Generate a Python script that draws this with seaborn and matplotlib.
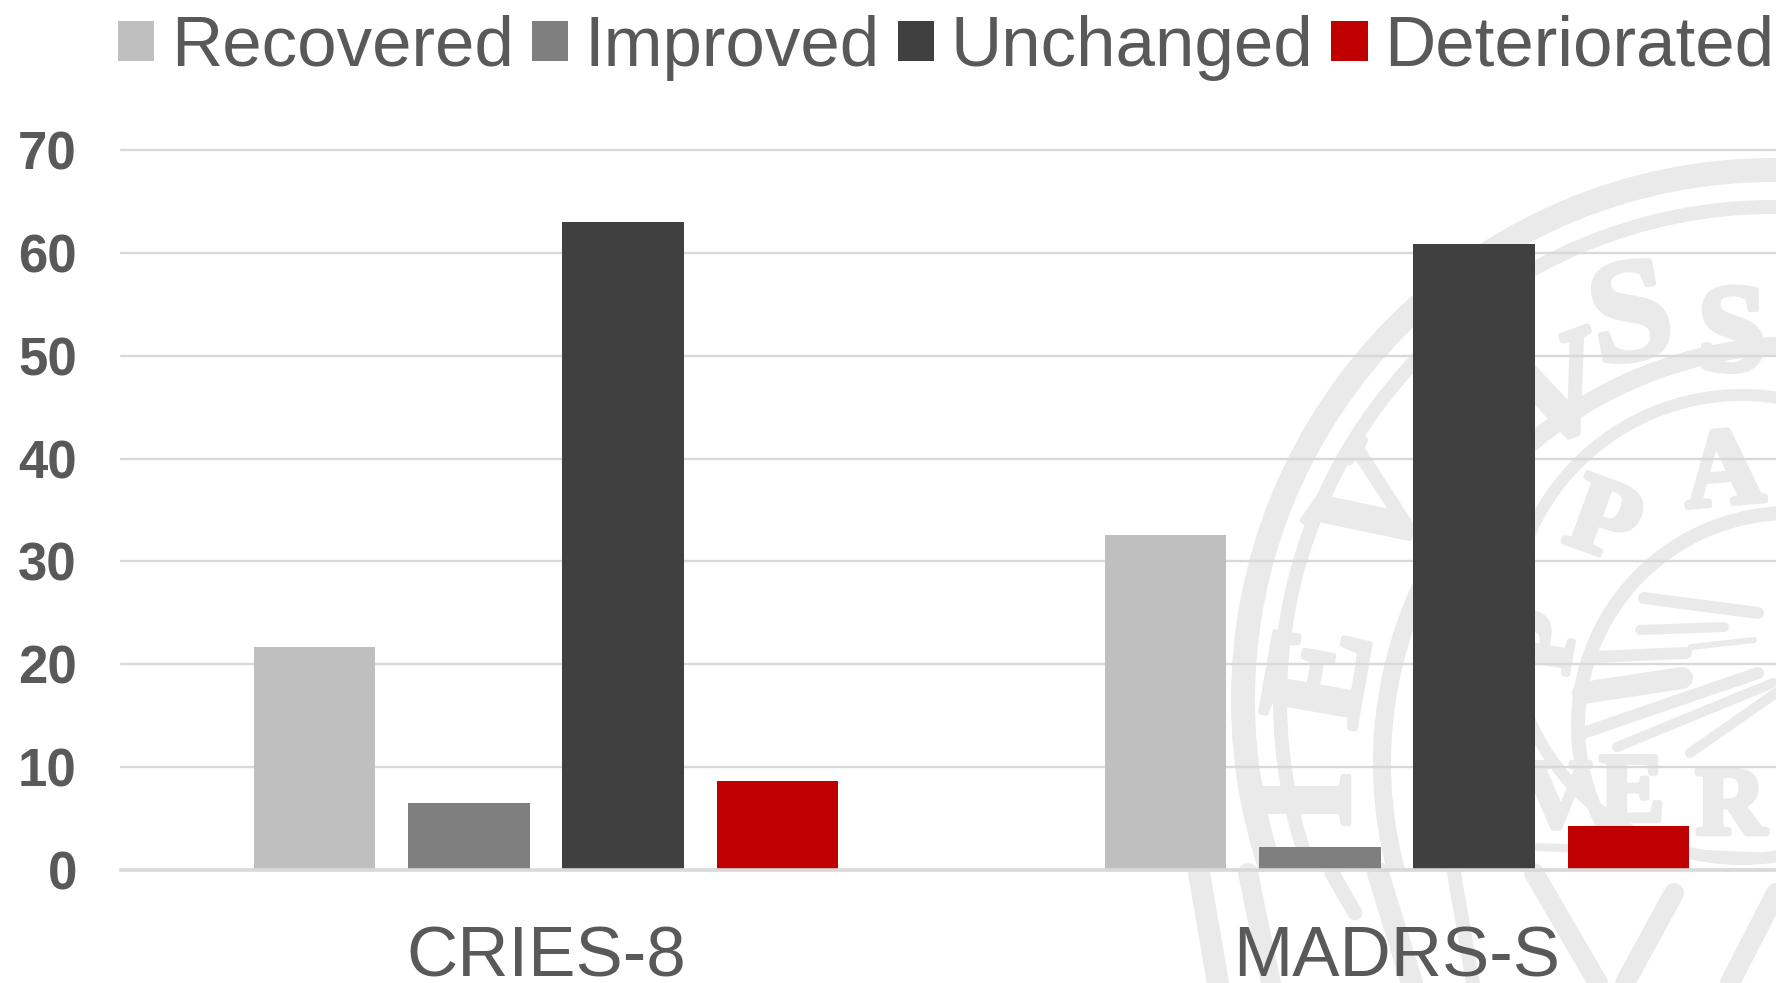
import pandas as pd
import seaborn as sns
import matplotlib.pyplot as plt
import matplotlib.patheffects as pe
from matplotlib.patches import Circle, Rectangle

scales = ['CRIES-8', 'MADRS-S']
outcomes = ['Recovered', 'Improved', 'Unchanged', 'Deteriorated']
recovered = [21.7, 32.6]
improved = [6.5, 2.2]
unchanged = [63.0, 60.9]
deteriorated = [8.7, 4.3]
y_ticks = [0, 10, 20, 30, 40, 50, 60, 70]
colors = ['#BFBFBF', '#7F7F7F', '#404040', '#C00000']

# watermark pieces (background decoration, in pixels)
seal_color = '#EAEAEA'
seal_rings = [
    ((1773, 700), 530, 24), ((1773, 700), 493, 14), ((1800, 763), 418, 18),
    ((1742, 627), 232, 12), ((1790, 725), 212, 14),
]
seal_strokes = [
    ((1644, 598), (1758, 613), 12), ((1640, 630), (1724, 627), 10),
    ((1594, 657), (1686, 653), 12), ((1691, 647), (1754, 640), 6),
    ((1583, 693), (1682, 678), 22), ((1583, 733), (1758, 673), 12),
    ((1617, 747), (1773, 683), 10), ((1690, 753), (1776, 693), 10),
    ((1537, 847), (1776, 857), 8),
]
seal_lower = [
    ((1199, 873), (1218, 983), 22), ((1248, 873), (1271, 983), 20),
    ((1332, 873), (1355, 913), 15), ((1378, 873), (1412, 983), 22),
    ((1454, 873), (1473, 983), 14), ((1534, 873), (1598, 983), 20),
    ((1674, 893), (1625, 983), 20), ((1776, 893), (1730, 983), 20),
]
seal_letters = [
    ('I', 1313, 800, 90, 105), ('E', 1328, 677, 80, 105), ('V', 1381, 513, 55, 105),
    ('V', 1560, 400, 20, 105), ('S', 1632, 323, 10, 105), ('S', 1732, 340, 0, 90),
    ('A', 1724, 477, 5, 80), ('P', 1602, 527, -20, 80), ('P', 1549, 643, 80, 70),
    ('V', 1556, 803, 0, 70), ('E', 1632, 797, 0, 70), ('R', 1731, 810, 0, 70),
]

df = pd.DataFrame({
    'scale': scales * 4,
    'outcome': [o for o in outcomes for _ in scales],
    'value': recovered + improved + unchanged + deteriorated,
})

sns.set_theme(style='white')
plt.rcParams['font.family'] = ['Liberation Sans', 'DejaVu Sans']

fig = plt.figure(figsize=(17.76, 9.83), dpi=100)

bg = fig.add_axes([0, 0, 1, 1], zorder=0)
bg.axis('off')
for c, r, w in seal_rings:
    bg.add_patch(Circle(c, r, fill=False, ec=seal_color, lw=w * 0.72))
for a, b, w in seal_strokes:
    bg.plot([a[0], b[0]], [a[1], b[1]], color=seal_color, lw=w * 0.72, solid_capstyle='round')
for s, x, y, rot, size in seal_letters:
    bg.text(x, y, s, fontsize=size, family='Liberation Serif', weight='bold', color=seal_color,
            rotation=rot, ha='center', va='center',
            path_effects=[pe.withStroke(linewidth=4, foreground=seal_color)])
bg.add_patch(Rectangle((0, 871), 1776, 112, fc='white', ec='none', zorder=4))
for a, b, w in seal_lower:
    bg.plot([a[0], b[0]], [a[1], b[1]], color=seal_color, lw=w * 0.72, zorder=5)
bg.set_xlim(0, 1776)
bg.set_ylim(983, 0)

ax = fig.add_axes([120.5 / 1776, (983 - 870) / 983, 1702 / 1776, 720 / 983], zorder=1)
ax.patch.set_visible(False)

sns.barplot(data=df, x='scale', y='value', hue='outcome', order=scales, hue_order=outcomes,
            palette=colors, saturation=1, width=0.7255, gap=0.2124, linewidth=0,
            edgecolor='none', ax=ax)

ax.set_xlim(-0.5, 1.5)
ax.set_ylim(0, 70)
ax.set_yticks(y_ticks)
ax.set_xlabel('')
ax.set_ylabel('')
ax.set_axisbelow(True)
ax.grid(axis='y', color='#D9D9D9', lw=1.7, clip_on=False)
ax.grid(axis='x', visible=False)
sns.despine(ax=ax, left=True)
ax.spines['bottom'].set_color('#D9D9D9')
ax.spines['bottom'].set_linewidth(2.6)

ax.tick_params(axis='y', length=0, pad=31.5, labelsize=38, labelcolor='#595959')
ax.tick_params(axis='x', length=0, pad=40, labelsize=51, labelcolor='#595959')
for lab in ax.get_yticklabels():
    lab.set_fontweight('bold')

sns.move_legend(ax, 'upper left', bbox_to_anchor=(118 / 1776, 1 - 15 / 983),
                bbox_transform=fig.transFigure, ncol=4, title=None, frameon=False,
                fontsize=51, handlelength=0.51, handleheight=0.5,
                handletextpad=0.24, columnspacing=0.25, borderpad=0, borderaxespad=0)
for t in ax.get_legend().get_texts():
    t.set_color('#595959')

fig.savefig('out.png', dpi=100)
